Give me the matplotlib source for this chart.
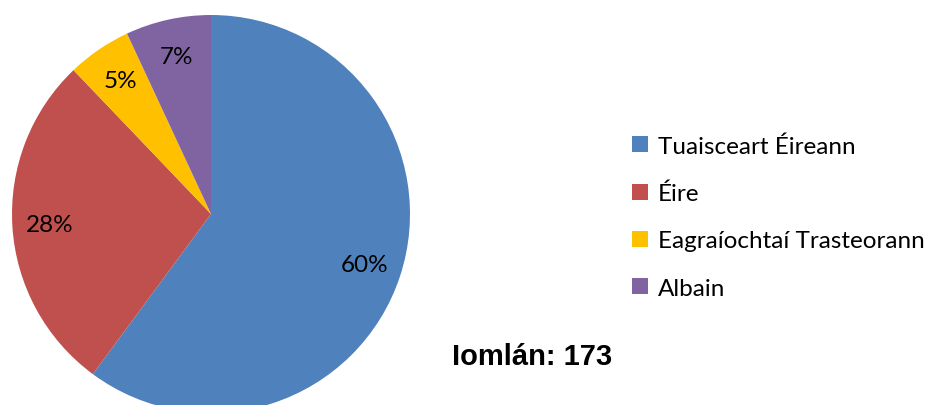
import matplotlib.pyplot as plt
from matplotlib.patches import Patch

# Data
labels = ["Tuaisceart Éireann", "Éire", "Eagraíochtaí Trasteorann", "Albain"]
values = [104, 48, 9, 12]
colors = ["#4F81BD", "#C0504D", "#FFC000", "#8064A2"]
total_text = "Iomlán: 173"

plt.rcParams['font.family'] = ['Lato', 'DejaVu Sans']

fig = plt.figure(figsize=(9.28, 4.06), dpi=100)
# pie centre ~ (211, 215) px, radius ~199 px
ax = fig.add_axes([12 / 928, -8 / 406, 398 / 928, 398 / 406])
wedges, texts, autotexts = ax.pie(
    values, colors=colors, startangle=90, counterclock=False,
    autopct=lambda p: f"{p:.0f}%", pctdistance=0.81, radius=1,
    wedgeprops=dict(linewidth=0),
    textprops=dict(fontsize=17.5, color="black"))
ax.set_xlim(-1, 1)
ax.set_ylim(-1, 1)
ax.set_aspect("equal")
ax.axis("off")

handles = [Patch(facecolor=c, edgecolor="none") for c in colors]
fig.legend(handles, labels, loc="upper left", bbox_to_anchor=(632 / 928, 1 - 136 / 406),
           frameon=False, fontsize=17.5, handlelength=0.65, handleheight=0.65,
           handletextpad=0.4, labelspacing=1.08, borderpad=0, borderaxespad=0)

fig.text(452 / 928, 1 - 357 / 406, total_text, fontsize=21, fontweight="bold",
         family="Liberation Sans", va="center", ha="left")

fig.savefig("out.png", dpi=100)
